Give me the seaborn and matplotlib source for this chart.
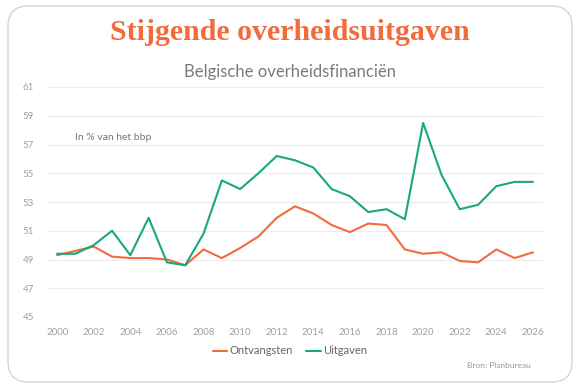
import pandas as pd
import matplotlib.pyplot as plt
import seaborn as sns
from matplotlib.patches import FancyBboxPatch
from matplotlib.lines import Line2D

# ===================== Data =====================
years = list(range(2000, 2027))
ontvangsten = [49.3, 49.6, 49.9, 49.2, 49.1, 49.1, 49.0, 48.6, 49.7, 49.1,
               49.8, 50.6, 51.9, 52.7, 52.2, 51.4, 50.9, 51.5, 51.4, 49.7,
               49.4, 49.5, 48.9, 48.8, 49.7, 49.1, 49.5]
uitgaven = [49.4, 49.4, 50.0, 51.0, 49.3, 51.9, 48.8, 48.6, 50.8, 54.5,
            53.9, 55.0, 56.2, 55.9, 55.4, 53.9, 53.4, 52.3, 52.5, 51.8,
            58.5, 54.9, 52.5, 52.8, 54.1, 54.4, 54.4]
series_names = ["Ontvangsten", "Uitgaven"]
y_ticks = list(range(45, 62, 2))
x_ticks = list(range(2000, 2027, 2))

df = pd.DataFrame({
    "jaar": years * 2,
    "waarde": ontvangsten + uitgaven,
    "reeks": [series_names[0]] * len(years) + [series_names[1]] * len(years),
})

colors = {"Ontvangsten": "#F26B3D", "Uitgaven": "#19A87B"}

# ===================== Figure =====================
sns.set_theme(style="white")
plt.rcParams['font.family'] = ['Lato', 'DejaVu Sans']

fig = plt.figure(figsize=(5.8, 3.87), dpi=100)
fig.patch.set_facecolor("white")

# rounded card (drawn behind the axes)
card = FancyBboxPatch((8 / 580, 5 / 387), 564 / 580, 376 / 387,
                      boxstyle="round,pad=0,rounding_size=0.035",
                      transform=fig.transFigure, facecolor="white",
                      edgecolor="#cdd7dc", linewidth=1.0, mutation_aspect=580 / 387,
                      zorder=-5)
fig.patches.append(card)

ax = fig.add_axes([48 / 580, 1 - 317 / 387, 495 / 580, 230 / 387])
ax.set_facecolor("none")
ax.set_zorder(2)

sns.lineplot(data=df, x="jaar", y="waarde", hue="reeks", palette=colors,
             linewidth=1.5, ax=ax, legend=False)

ax.set_xlim(1999.5, 2026.55)
ax.set_ylim(45, 61)
ax.set_yticks(y_ticks)
ax.set_xticks(x_ticks)
ax.set_xticks([1999.5 + 5 * i for i in range(6)], minor=True)
ax.grid(axis="y", color="#ececec", linewidth=0.8)
ax.set_axisbelow(True)
for s in ax.spines.values():
    s.set_visible(False)
ax.tick_params(axis="both", which="major", length=0, labelsize=7, labelcolor="#a0a0a0")
ax.tick_params(axis="x", which="major", pad=8)
ax.tick_params(axis="y", pad=10)
ax.tick_params(axis="x", which="minor", length=3, direction="in", color="#e0e0e0")
ax.set_xlabel("")
ax.set_ylabel("")

ax.text(2001.0, 57.5, "In % van het bbp", fontsize=7.5, color="#777777",
        ha="left", va="center")

# ===================== Titles =====================
fig.text(0.5, 1 - 33 / 387, "Stijgende overheidsuitgaven", ha="center", va="center",
         fontsize=21.5, fontweight="bold", color="#F26B3D", family="Liberation Serif")
fig.text(0.5, 1 - 72 / 387, "Belgische overheidsfinanciën", ha="center", va="center",
         fontsize=12, color="#7a7a7a")

# ===================== Legend =====================
handles = [Line2D([0], [0], color=colors[n], linewidth=1.5) for n in series_names]
fig.legend(handles, series_names, loc="center", bbox_to_anchor=(0.5, 1 - 351 / 387),
           ncol=2, frameon=False, fontsize=8, handlelength=1.3, handletextpad=0.2,
           columnspacing=1.2, labelcolor="#666666")

fig.text(531 / 580, 1 - 366 / 387, "Bron: Planbureau", ha="right", va="center",
         fontsize=6, color="#999999")

fig.savefig("out.png", dpi=100)
